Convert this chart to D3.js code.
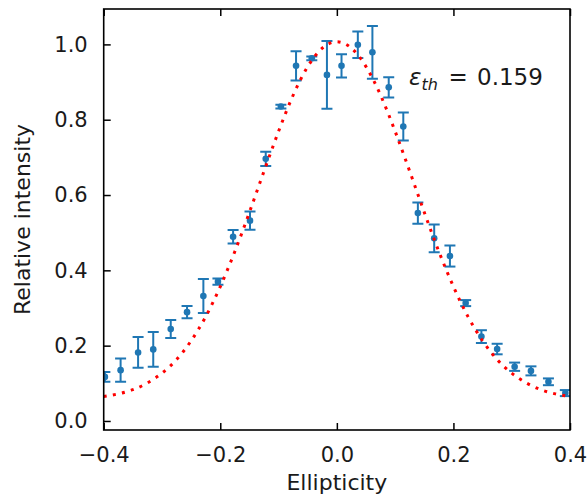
<!DOCTYPE html>
<html><head><meta charset="utf-8">
<script src="https://cdn.jsdelivr.net/npm/d3@7"></script>
<style>
body{margin:0;background:#fff}
text{font-family:"DejaVu Sans",sans-serif;fill:#1a1a1a}
</style>
</head><body>
<svg id="chart" width="588" height="497"></svg>
<script>
// ---- data ----
const ellipticity = [-0.398,-0.371,-0.341,-0.315,-0.285,-0.257,-0.229,-0.204,-0.178,-0.149,-0.122,-0.096,-0.070,-0.043,-0.017,0.008,0.036,0.061,0.089,0.114,0.139,0.167,0.194,0.221,0.248,0.275,0.305,0.333,0.363,0.392];
const intensity   = [0.117,0.135,0.182,0.190,0.244,0.289,0.332,0.370,0.489,0.532,0.696,0.835,0.943,0.963,0.919,0.943,0.999,0.979,0.886,0.782,0.552,0.485,0.438,0.313,0.224,0.191,0.144,0.133,0.104,0.074];
const intensityErr= [0.013,0.031,0.041,0.046,0.024,0.016,0.045,0.008,0.018,0.024,0.019,0.005,0.039,0.005,0.090,0.031,0.035,0.070,0.027,0.037,0.028,0.037,0.028,0.008,0.017,0.014,0.011,0.012,0.009,0.008];
const fitX = [-0.4,-0.375,-0.35,-0.325,-0.3,-0.275,-0.25,-0.225,-0.2,-0.175,-0.15,-0.125,-0.1,-0.075,-0.05,-0.025,0,0.025,0.05,0.075,0.1,0.125,0.15,0.175,0.2,0.225,0.25,0.275,0.3,0.325,0.35,0.375,0.4];
const fitY = [0.065,0.072,0.083,0.101,0.127,0.163,0.213,0.277,0.357,0.450,0.554,0.663,0.769,0.865,0.941,0.990,1.007,0.990,0.941,0.865,0.769,0.663,0.554,0.450,0.357,0.277,0.213,0.163,0.127,0.101,0.083,0.072,0.065];
const xTicks = [-0.4,-0.2,0.0,0.2,0.4];
const yTicks = [0.0,0.2,0.4,0.6,0.8,1.0];
const xLabel = "Ellipticity";
const yLabel = "Relative intensity";
const annotValue = "0.159";

// ---- layout ----
const L = 103.7, R = 570, T = 9, B = 430;
const svg = d3.select("#chart");
const x = d3.scaleLinear().domain([-0.4, 0.4]).range([L, R]);
const y = d3.scaleLinear().domain([-0.024, 1.094]).range([B, T]);
const blue = "#1f77b4";
const fmt = d => d3.format(".1f")(d).replace("-", "\u2212");

svg.append("defs").append("clipPath").attr("id","clip")
  .append("rect").attr("x",L).attr("y",T).attr("width",R-L).attr("height",B-T);

const plot = svg.append("g").attr("clip-path","url(#clip)");
const pts = ellipticity.map((e,i)=>({x:e, y:intensity[i], err:intensityErr[i]}));

// error bars
const eb = plot.append("g").attr("stroke", blue).attr("stroke-width", 2).attr("fill","none");
pts.forEach(p=>{
  eb.append("line").attr("x1",x(p.x)).attr("x2",x(p.x)).attr("y1",y(p.y-p.err)).attr("y2",y(p.y+p.err));
  eb.append("line").attr("x1",x(p.x)-5.5).attr("x2",x(p.x)+5.5).attr("y1",y(p.y-p.err)).attr("y2",y(p.y-p.err));
  eb.append("line").attr("x1",x(p.x)-5.5).attr("x2",x(p.x)+5.5).attr("y1",y(p.y+p.err)).attr("y2",y(p.y+p.err));
});
plot.append("g").selectAll("circle").data(pts).join("circle")
  .attr("cx",d=>x(d.x)).attr("cy",d=>y(d.y)).attr("r",3.3).attr("fill",blue);

// fit curve
const line = d3.line().x((d,i)=>x(fitX[i])).y(d=>y(d)).curve(d3.curveNatural);
plot.append("path").attr("d", line(fitY)).attr("fill","none")
  .attr("stroke","#ff0000").attr("stroke-width",3).attr("stroke-dasharray","3,6.3");

// axes
const tickLen = 7;
const xAxisB = d3.axisBottom(x).tickValues(xTicks).tickSizeInner(-tickLen).tickSizeOuter(0).tickPadding(tickLen+10).tickFormat(fmt);
const xAxisT = d3.axisTop(x).tickValues(xTicks).tickSizeInner(-tickLen).tickSizeOuter(0).tickFormat("");
const yAxisL = d3.axisLeft(y).tickValues(yTicks).tickSizeInner(-tickLen).tickSizeOuter(0).tickPadding(tickLen+9).tickFormat(fmt);

function style(g){
  g.select(".domain").remove();
  g.selectAll(".tick line").attr("stroke","#000").attr("stroke-width",1.5);
  g.selectAll(".tick text").attr("fill","#1a1a1a").style("font-size","21px").style("font-family","DejaVu Sans");
}
svg.append("g").attr("transform",`translate(0,${B})`).call(xAxisB).call(style);
svg.append("g").attr("transform",`translate(0,${T})`).call(xAxisT).call(style);
svg.append("g").attr("transform",`translate(${L},0)`).call(yAxisL).call(style);

svg.append("rect").attr("x",L).attr("y",T).attr("width",R-L).attr("height",B-T)
  .attr("fill","none").attr("stroke","#000").attr("stroke-width",1.6);

// labels
svg.append("text").attr("x",(L+R)/2).attr("y",490).attr("text-anchor","middle")
  .style("font-size","22px").text(xLabel);
svg.append("text").attr("transform",`translate(30,${(T+B)/2}) rotate(-90)`).attr("text-anchor","middle")
  .style("font-size","22px").text(yLabel);

// annotation
const ann = svg.append("text").attr("y",84.5).style("font-size","23px");
ann.append("tspan").attr("x",409).style("font-style","italic").text("\u03b5");
ann.append("tspan").attr("x",421.5).style("font-style","italic").style("font-size","16px").attr("dy",5).text("th");
ann.append("tspan").attr("x",448.5).attr("dy",-5).text("=");
ann.append("tspan").attr("x",477).text(annotValue);
</script>
</body></html>
